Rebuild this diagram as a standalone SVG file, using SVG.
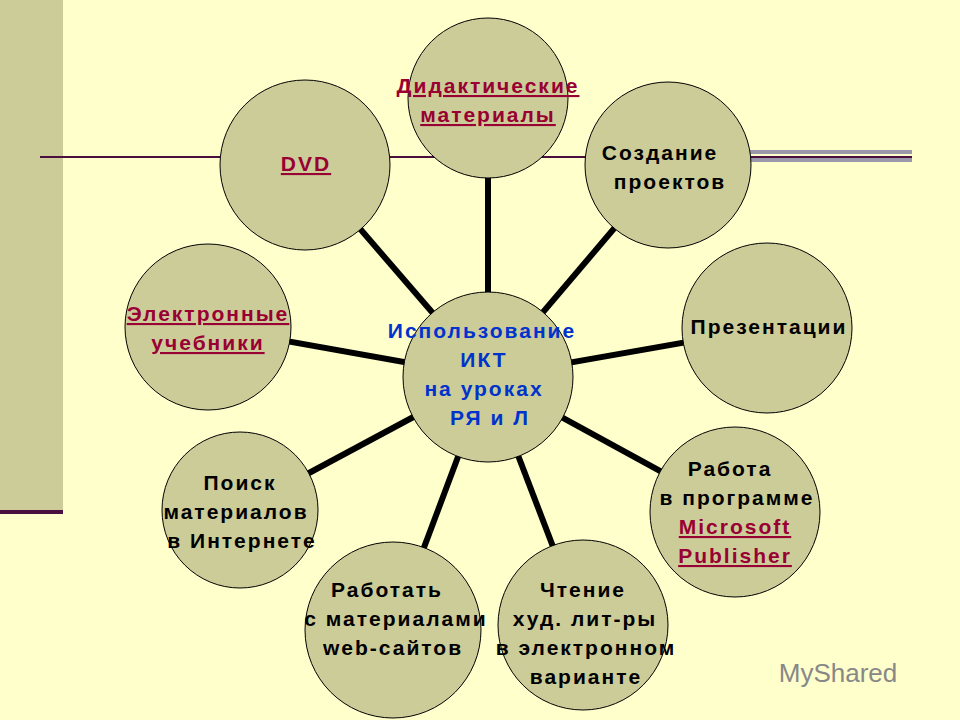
<svg xmlns="http://www.w3.org/2000/svg" width="960" height="720" viewBox="0 0 960 720">
<style>
.c{fill:#CCCC99;stroke:#000;stroke-width:1}
.t{font-family:"Liberation Sans",Arial,sans-serif;font-weight:bold;font-size:21px;letter-spacing:2px;text-anchor:middle;fill:#000}
.l{fill:#990033;text-decoration:underline}
.b{fill:#0033CC}
</style>
<rect width="960" height="720" fill="#FFFFCC"/>
<rect x="0" y="0" width="63" height="510" fill="#CCCC99"/>
<rect x="0" y="510" width="63" height="4" fill="#4B0F3F"/>
<rect x="40" y="156" width="872" height="2" fill="#4B0F3F"/>
<rect x="750" y="150" width="162" height="4" fill="#9999AA"/>
<rect x="750" y="158" width="162" height="4" fill="#9999AA"/>
<g id="connectors" stroke="#000" stroke-width="6">
<line x1="488" y1="377" x2="488" y2="98"/>
<line x1="488" y1="377" x2="668" y2="165"/>
<line x1="488" y1="377" x2="767" y2="328"/>
<line x1="488" y1="377" x2="735" y2="512"/>
<line x1="488" y1="377" x2="583" y2="625"/>
<line x1="488" y1="377" x2="393" y2="630"/>
<line x1="488" y1="377" x2="240" y2="510"/>
<line x1="488" y1="377" x2="208" y2="327"/>
<line x1="488" y1="377" x2="305" y2="165"/>
</g>
<g id="n1"><circle class="c" cx="488" cy="98" r="80"/><text class="t l" x="488" y="93">Дидактические </text><text class="t l" x="488" y="122">материалы</text></g>
<g id="n2"><circle class="c" cx="668" cy="165" r="83"/><text class="t" x="660" y="160">Создание</text><text class="t" x="670" y="189">проектов</text></g>
<g id="n3"><circle class="c" cx="767" cy="328" r="85"/><text class="t" x="769" y="334">Презентации</text></g>
<g id="n4"><circle class="c" cx="735" cy="512" r="85"/><text class="t" x="730" y="476">Работа</text><text class="t" x="737" y="505">в программе</text><text class="t l" x="735" y="534">Microsoft </text><text class="t l" x="735" y="563">Publisher </text></g>
<g id="n5"><circle class="c" cx="583" cy="625" r="85"/><text class="t" x="583" y="597">Чтение</text><text class="t" x="585" y="626">худ. лит-ры</text><text class="t" x="586" y="655">в электронном</text><text class="t" x="586" y="684">варианте</text></g>
<g id="n6"><circle class="c" cx="393" cy="630" r="88"/><text class="t" x="387" y="597">Работать</text><text class="t" x="396" y="626">с материалами</text><text class="t" x="393" y="655">web-сайтов</text></g>
<g id="n7"><circle class="c" cx="240" cy="510" r="78"/><text class="t" x="240" y="490">Поиск</text><text class="t" x="236" y="519">материалов</text><text class="t" x="242" y="548">в Интернете</text></g>
<g id="n8"><circle class="c" cx="208" cy="327" r="83"/><text class="t l" x="208" y="321">Электронные </text><text class="t l" x="208" y="350">учебники</text></g>
<g id="n9"><circle class="c" cx="305" cy="165" r="85"/><text class="t l" x="306" y="171">DVD</text></g>
<g id="center"><circle class="c" cx="488" cy="377" r="85"/><text class="t b" x="482" y="338">Использование</text><text class="t b" x="484" y="367">ИКТ</text><text class="t b" x="484" y="396">на уроках</text><text class="t b" x="490" y="425">РЯ и Л</text></g>
<text x="838" y="682" font-family="Liberation Sans,Arial,sans-serif" font-size="26" fill="#888" text-anchor="middle">MyShared</text>
</svg>
